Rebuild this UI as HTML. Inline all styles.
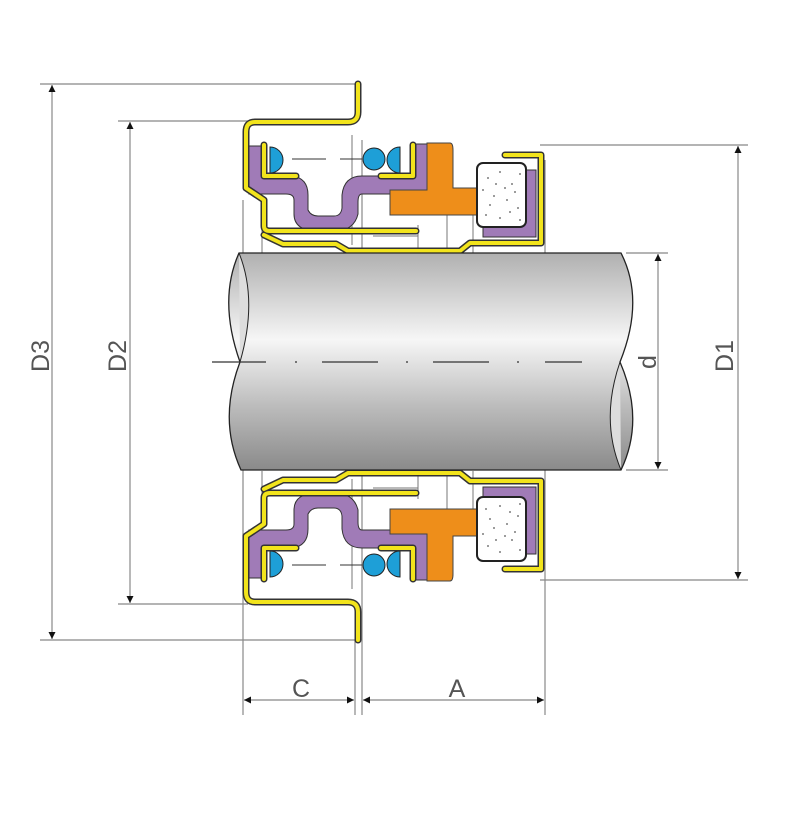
<!DOCTYPE html>
<html><head><meta charset="utf-8"><style>
html,body{margin:0;padding:0;background:#fff;width:798px;height:822px;overflow:hidden}
svg{display:block}
text{font-family:"Liberation Sans",sans-serif;fill:#555;font-size:25px}
</style></head><body>
<svg width="798" height="822" viewBox="0 0 798 822" xmlns="http://www.w3.org/2000/svg">
<defs>
<linearGradient id="sh" x1="0" y1="0" x2="0" y2="1">
<stop offset="0" stop-color="#b0b0b0"/><stop offset="0.4" stop-color="#f6f6f6"/><stop offset="0.7" stop-color="#bdbdbd"/><stop offset="1" stop-color="#8a8a8a"/>
</linearGradient>
<marker id="ar" viewBox="0 0 10 10" refX="10" refY="5" markerWidth="16" markerHeight="7" orient="auto-start-reverse" markerUnits="userSpaceOnUse"><path d="M0,0L10,5L0,10z" fill="#111"/></marker>
<g id="half">
 <g stroke="#777" stroke-width="1" fill="none">
  <line x1="262" y1="228" x2="262" y2="253"/>
  <line x1="418" y1="225" x2="418" y2="248"/>
  <line x1="373" y1="236" x2="418" y2="236"/>
  <line x1="447" y1="215" x2="447" y2="253"/>
  <line x1="473" y1="215" x2="473" y2="253"/>
  <line x1="352" y1="135" x2="352" y2="245"/>
 </g>
 <path d="M249,146 L263,146 L263,176 L292,176 Q308,178 308,195 L308,210 Q311,216 318,216 L334,216 Q341,216 342,208 L342,195 Q344,176 362,176 L413,176 L413,144 L427,144 L427,194 L362,194 Q358,194 358,202 L358,214 Q354,231 334,231 L318,231 Q294,231 294,214 L294,200 Q294,194 286,194 L249,194 Z" fill="#a07bb7" stroke="#333" stroke-width="1"/>
 <path d="M427,143 L450,143 Q453,143 453,150 L453,188 L477,188 L477,215 L390,215 L390,190 L427,190 Z" fill="#ee8e1a" stroke="#444" stroke-width="1"/>
 <path d="M483,170 L536,170 L536,237 L483,237 Z" fill="#a07bb7" stroke="#333" stroke-width="1"/>
 <rect x="477" y="163" width="49" height="64" rx="6" fill="#fff" stroke="#222" stroke-width="2"/>
 <g fill="#555">
  <circle cx="488" cy="178" r="0.9"/><circle cx="500" cy="172" r="0.9"/><circle cx="512" cy="184" r="0.9"/><circle cx="494" cy="196" r="0.9"/><circle cx="507" cy="200" r="0.9"/><circle cx="518" cy="208" r="0.9"/><circle cx="486" cy="215" r="0.9"/><circle cx="500" cy="218" r="0.9"/><circle cx="515" cy="192" r="0.9"/><circle cx="490" cy="205" r="0.9"/><circle cx="505" cy="188" r="0.9"/><circle cx="520" cy="174" r="0.9"/><circle cx="483" cy="190" r="0.9"/><circle cx="510" cy="212" r="0.9"/><circle cx="496" cy="184" r="0.9"/><circle cx="520" cy="220" r="0.9"/>
 </g>
 <path d="M270,147 A13,13 0 0 1 270,173 Z" fill="#1e9fd7" stroke="#222" stroke-width="1"/>
 <circle cx="374" cy="159" r="11" fill="#1e9fd7" stroke="#222" stroke-width="1"/>
 <path d="M400,147 A13,13 0 0 0 400,173 Z" fill="#1e9fd7" stroke="#222" stroke-width="1"/>
 <g fill="none" stroke-linejoin="round" stroke-linecap="round">
  <g stroke="#333" stroke-width="7">
   <path d="M358,84 L358,112 Q358,122 348,122 L255,122 Q246,122 246,132 L246,188 L264,200 L264,226 Q264,231 270,231 L416,231"/>
   <path d="M264,235 L283,244 L336,244 L348,251 L460,251 L470,243 L541,243 L541,155 L505,155"/>
   <path d="M264,145 L264,176 L296,176"/>
   <path d="M413,145 L413,176 L381,176"/>
  </g>
  <g stroke="#f2e41c" stroke-width="4">
   <path d="M358,84 L358,112 Q358,122 348,122 L255,122 Q246,122 246,132 L246,188 L264,200 L264,226 Q264,231 270,231 L416,231"/>
   <path d="M264,235 L283,244 L336,244 L348,251 L460,251 L470,243 L541,243 L541,155 L505,155"/>
   <path d="M264,145 L264,176 L296,176"/>
   <path d="M413,145 L413,176 L381,176"/>
  </g>
 </g>
 <path d="M292,159 L326,159 M340,159 L362,159" stroke="#333" stroke-width="1"/>
</g>
</defs>

<g stroke="#888" stroke-width="1.2" fill="none">
 <line x1="40" y1="84" x2="356" y2="84"/><line x1="40" y1="640" x2="356" y2="640"/>
 <line x1="118" y1="121" x2="248" y2="121"/><line x1="118" y1="604" x2="248" y2="604"/>
 <line x1="540" y1="145" x2="748" y2="145"/><line x1="540" y1="580" x2="748" y2="580"/>
 <line x1="626" y1="253" x2="668" y2="253"/><line x1="626" y1="470" x2="668" y2="470"/>
 <line x1="243" y1="200" x2="243" y2="715"/><line x1="355" y1="640" x2="355" y2="715"/>
 <line x1="362" y1="140" x2="362" y2="715"/><line x1="545" y1="160" x2="545" y2="715"/>
</g>
<g stroke="#888" stroke-width="1.2" marker-start="url(#ar)" marker-end="url(#ar)">
 <line x1="52" y1="85" x2="52" y2="639"/>
 <line x1="130" y1="122" x2="130" y2="603"/>
 <line x1="738" y1="146" x2="738" y2="579"/>
 <line x1="658" y1="254" x2="658" y2="469"/>
 <line x1="244" y1="700" x2="354" y2="700"/>
 <line x1="363" y1="700" x2="544" y2="700"/>
</g>
<text x="301" y="697" text-anchor="middle">C</text>
<text x="457" y="697" text-anchor="middle">A</text>
<text transform="translate(49,356) rotate(-90)" text-anchor="middle">D3</text>
<text transform="translate(126,356) rotate(-90)" text-anchor="middle">D2</text>
<text transform="translate(733,356) rotate(-90)" text-anchor="middle">D1</text>
<text transform="translate(656,362) rotate(-90)" text-anchor="middle">d</text>

<use href="#half"/>
<use href="#half" transform="translate(0,724) scale(1,-1)"/>

<path d="M239,253 L621,253 Q645,300 620,362 Q645,420 621,470 L241,470 Q218,420 240,362 Q218,300 239,253 Z" fill="url(#sh)" stroke="#222" stroke-width="1.3"/>
<path d="M239,253 Q258,300 240,362" fill="#ddd" stroke="#222" stroke-width="1"/>
<path d="M620,362 Q600,420 621,470" fill="#ddd" stroke="#222" stroke-width="1"/>
<path d="M212,362 L266,362 M295,362 L297,362 M322,362 L378,362 M406,362 L408,362 M433,362 L489,362 M517,362 L519,362 M545,362 L582,362" stroke="#333" stroke-width="1.2"/>
</svg>
</body></html>
